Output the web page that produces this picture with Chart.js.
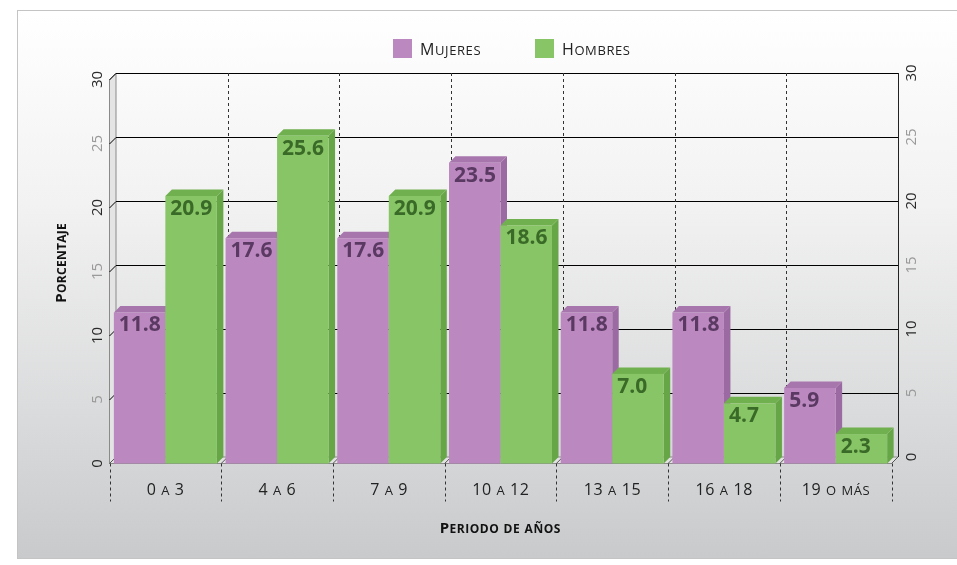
<!DOCTYPE html>
<html>
<head>
<meta charset="utf-8">
<script src="https://cdn.jsdelivr.net/npm/chart.js@4"></script>
<style>
  html, body { margin: 0; padding: 0; background: #fff; }
  #wrap { position: relative; width: 957px; height: 565px; overflow: hidden; }
  #panel {
    position: absolute; left: 17px; top: 10px; width: 960px; height: 547px;
    border: 1px solid #c4c4c4;
    background: linear-gradient(to bottom, #ffffff 0%, #f2f2f2 35%, #d9dadb 75%, #c9cacc 100%);
  }
  #box { position: absolute; left: 0; top: 0; width: 957px; height: 565px; }
</style>
</head>
<body>
<div id="wrap">
  <div id="panel"></div>
  <div id="box"><canvas id="c"></canvas></div>
</div>
<script>
const CATEGORIES = ['0 a 3', '4 a 6', '7 a 9', '10 a 12', '13 a 15', '16 a 18', '19 o más'];
const MUJERES = [11.8, 17.6, 17.6, 23.5, 11.8, 11.8, 5.9];
const HOMBRES = [20.9, 25.6, 20.9, 18.6, 7.0, 4.7, 2.3];
const Y_TICKS = [0, 5, 10, 15, 20, 25, 30];
const SERIES_NAMES = ['Mujeres', 'Hombres'];

const FONT = '"Open Sans", "Noto Sans", sans-serif';
const D = 6.5; // 3d depth
const FACES = [
  { front: '#bb88bf', top: '#a776ad', side: '#9c6aa2', label: '#5a3962' },
  { front: '#88c566', top: '#70b04f', side: '#67a647', label: '#3a6a27' }
];

// fake small caps: lowercase letters drawn as smaller capitals
function smallCaps(ctx, text, x, y, size, weight, align, color, spacing) {
  spacing = spacing || 0;
  const parts = [...text].map(ch => {
    const low = ch !== ch.toUpperCase();
    return { ch: low ? ch.toUpperCase() : ch, size: low ? Math.round(size * 0.8) : size };
  });
  let total = 0;
  parts.forEach(p => { ctx.font = weight + ' ' + p.size + 'px ' + FONT; p.w = ctx.measureText(p.ch).width + spacing; total += p.w; });
  total -= spacing;
  let cx = align === 'center' ? x - total / 2 : (align === 'right' ? x - total : x);
  ctx.fillStyle = color;
  ctx.textAlign = 'left';
  ctx.textBaseline = 'alphabetic';
  parts.forEach(p => {
    ctx.font = weight + ' ' + p.size + 'px ' + FONT;
    ctx.fillText(p.ch, cx, y);
    cx += p.w;
  });
}

const chartDecor = {
  id: 'chartDecor',
  beforeDatasetsDraw(chart) {
    const ctx = chart.ctx;
    const xs = chart.scales.x, ys = chart.scales.y;
    const { left, right, top, bottom } = chart.chartArea;
    const n = CATEGORIES.length;
    const band = (right - left) / n;
    ctx.save();

    // left wall
    ctx.beginPath();
    ctx.moveTo(left - D, top + D); ctx.lineTo(left, top); ctx.lineTo(left, bottom); ctx.lineTo(left - D, bottom + D);
    ctx.closePath();
    ctx.fillStyle = '#e4e4e4'; ctx.fill();
    ctx.strokeStyle = '#8a8a8a'; ctx.lineWidth = 1; ctx.stroke();

    // floor
    ctx.beginPath();
    ctx.moveTo(left, bottom); ctx.lineTo(right, bottom); ctx.lineTo(right - D, bottom + D); ctx.lineTo(left - D, bottom + D);
    ctx.closePath();
    ctx.fillStyle = '#e2e2e2'; ctx.fill();
    ctx.strokeStyle = '#8a8a8a'; ctx.stroke();

    // gridlines + tick labels
    Y_TICKS.forEach(v => {
      const yv = ys.getPixelForValue(v);
      const yl = Math.round(yv) + 0.5;
      if (v > 0) {
        ctx.beginPath();
        ctx.moveTo(left - D, yl + D); ctx.lineTo(left, yl); ctx.lineTo(right, yl);
        ctx.strokeStyle = '#000'; ctx.lineWidth = 1; ctx.stroke();
      }
      const col = (v % 10 === 0) ? '#2a2a2a' : '#9a9a9a';
      ctx.font = '15px ' + FONT;
      ctx.fillStyle = col;
      ctx.textAlign = 'center'; ctx.textBaseline = 'middle';
      ctx.save(); ctx.translate(98, yv + D); ctx.rotate(-Math.PI / 2); ctx.fillText(String(v), 0, 0); ctx.restore();
      ctx.save(); ctx.translate(right + 14, yv); ctx.rotate(-Math.PI / 2); ctx.fillText(String(v), 0, 0); ctx.restore();
    });

    // right axis line
    ctx.beginPath(); ctx.moveTo(right + 0.5, top); ctx.lineTo(right + 0.5, bottom);
    ctx.strokeStyle = '#222'; ctx.stroke();

    // category boundaries
    for (let i = 0; i <= n; i++) {
      const bx = left + i * band;
      ctx.setLineDash([3, 3]);
      ctx.strokeStyle = '#333';
      if (i > 0 && i < n) {
        ctx.beginPath(); ctx.moveTo(Math.round(bx) + 0.5, top); ctx.lineTo(Math.round(bx) + 0.5, bottom); ctx.stroke();
      }
      ctx.beginPath(); ctx.moveTo(Math.round(bx - D) + 0.5, bottom + D); ctx.lineTo(Math.round(bx - D) + 0.5, bottom + D + 38); ctx.stroke();
      ctx.setLineDash([]);
      ctx.beginPath(); ctx.moveTo(bx, bottom); ctx.lineTo(bx - D, bottom + D); ctx.strokeStyle = '#555'; ctx.stroke();
    }

    // category labels
    CATEGORIES.forEach((c, i) => {
      const cx = xs.getPixelForValue(i) - D;
      smallCaps(ctx, c, cx, bottom + 38, 16, '400', 'center', '#222', 0.6);
    });

    // axis titles
    smallCaps(ctx, 'Periodo de años', 500, 533, 15, '700', 'center', '#111', 0.5);
    ctx.save(); ctx.translate(66, 263); ctx.rotate(-Math.PI / 2);
    smallCaps(ctx, 'Porcentaje', 0, 0, 15, '700', 'center', '#111', 0.3);
    ctx.restore();

    // legend
    [[393, 0], [535, 1]].forEach(([lx, k]) => {
      ctx.fillStyle = FACES[k].front;
      ctx.fillRect(lx, 39, 19, 19);
      smallCaps(ctx, SERIES_NAMES[k], lx + 27, 55, 16, '400', 'left', '#222', 0.6);
    });
    ctx.restore();
  },
  afterDatasetsDraw(chart) {
    const ctx = chart.ctx;
    ctx.save();
    const metas = [chart.getDatasetMeta(0), chart.getDatasetMeta(1)];
    for (let i = 0; i < CATEGORIES.length; i++) {
      metas.forEach((meta, k) => {
        const el = meta.data[i];
        const { x, y, base, width } = el.getProps(['x', 'y', 'base', 'width'], true);
        const l = x - width / 2, r = x + width / 2;
        const f = FACES[k];
        // side
        ctx.beginPath();
        ctx.moveTo(r - D, y + D); ctx.lineTo(r, y); ctx.lineTo(r, base); ctx.lineTo(r - D, base + D); ctx.closePath();
        ctx.fillStyle = f.side; ctx.fill();
        // top
        ctx.beginPath();
        ctx.moveTo(l - D, y + D); ctx.lineTo(l, y); ctx.lineTo(r, y); ctx.lineTo(r - D, y + D); ctx.closePath();
        ctx.fillStyle = f.top; ctx.fill();
        // front
        ctx.fillStyle = f.front;
        ctx.fillRect(l - D, y + D, width, base - y);
        // value label
        const v = chart.data.datasets[k].data[i];
        ctx.font = 'bold 21px ' + FONT;
        ctx.fillStyle = f.label;
        ctx.textAlign = 'left'; ctx.textBaseline = 'middle';
        ctx.fillText(v.toFixed(1), l - D + 5, y + D + 13);
      });
    }
    ctx.restore();
  }
};

new Chart(document.getElementById('c'), {
  type: 'bar',
  data: {
    labels: CATEGORIES,
    datasets: [
      { label: SERIES_NAMES[0], data: MUJERES, backgroundColor: 'rgba(0,0,0,0)' },
      { label: SERIES_NAMES[1], data: HOMBRES, backgroundColor: 'rgba(0,0,0,0)' }
    ]
  },
  options: {
    responsive: true,
    maintainAspectRatio: false,
    animation: false,
    events: [],
    layout: { padding: { left: 116, right: 59, top: 73, bottom: 108 } },
    datasets: { bar: { categoryPercentage: 0.922, barPercentage: 1 } },
    scales: {
      x: { display: false },
      y: { display: false, min: 0, max: 30 }
    },
    plugins: { legend: { display: false }, tooltip: { enabled: false } }
  },
  plugins: [chartDecor]
});
</script>
</body>
</html>
